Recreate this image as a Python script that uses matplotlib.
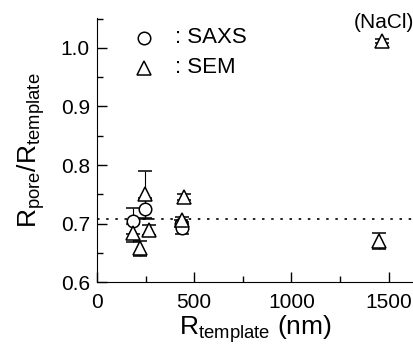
import matplotlib
matplotlib.use("Agg")
import matplotlib.pyplot as plt
from matplotlib.ticker import MultipleLocator

plt.rcParams['font.family'] = ['Liberation Sans', 'DejaVu Sans']
plt.rcParams['mathtext.fontset'] = 'custom'
plt.rcParams['mathtext.rm'] = 'Liberation Sans'
plt.rcParams['mathtext.it'] = 'Liberation Sans'

# SAXS points
saxs_x = [185, 246, 430, 440]
saxs_y = [0.705, 0.725, 0.700, 0.692]
saxs_err = [0.022, 0.018, 0.006, 0.010]

# SEM points
sem_x = [185, 220, 246, 267, 435, 446, 1450, 1468]
sem_y = [0.684, 0.658, 0.750, 0.689, 0.706, 0.745, 0.670, 1.012]
sem_err = [0.016, 0.013, 0.040, 0.008, 0.006, 0.005, 0.014, 0.004]

ideal = 0.707

fig = plt.figure(figsize=(4.14, 3.47), dpi=100)
ax = fig.add_axes([0.234, 0.187, 0.766, 0.761])

ax.axhline(ideal, color='black', linestyle=(0, (1.5, 4)), linewidth=1.2, zorder=1)

ax.errorbar(saxs_x, saxs_y, yerr=saxs_err, fmt='o', mfc='white', mec='black',
            ecolor='black', ms=9, mew=1.1, elinewidth=0.8, capsize=5, capthick=0.8, zorder=3)
ax.errorbar(sem_x, sem_y, yerr=sem_err, fmt='^', mfc='white', mec='black',
            ecolor='black', ms=10, mew=1.1, elinewidth=0.8, capsize=5, capthick=0.8, zorder=3)

# legend-like labels drawn in data space
ax.plot([240], [1.017], 'o', mfc='white', mec='black', ms=9, mew=1.1, clip_on=False)
ax.plot([240], [0.966], '^', mfc='white', mec='black', ms=10, mew=1.1, clip_on=False)
ax.text(400, 1.017, ': SAXS', fontsize=16, va='center', ha='left')
ax.text(400, 0.966, ': SEM', fontsize=16, va='center', ha='left')
ax.text(1475, 1.043, '(NaCl)', fontsize=15, va='center', ha='center')

ax.set_xlim(0, 1630)
ax.set_ylim(0.6, 1.051)
ax.xaxis.set_major_locator(MultipleLocator(500))
ax.xaxis.set_minor_locator(MultipleLocator(250))
ax.yaxis.set_major_locator(MultipleLocator(0.1))
ax.yaxis.set_minor_locator(MultipleLocator(0.05))
ax.yaxis.set_major_formatter(matplotlib.ticker.FormatStrFormatter('%.1f'))

ax.spines['top'].set_visible(False)
ax.spines['right'].set_visible(False)
ax.tick_params(which='both', direction='in', labelsize=15, width=1)
ax.tick_params(which='major', length=7)
ax.tick_params(which='minor', length=4)
ax.tick_params(axis='x', which='major', pad=8)
ax.tick_params(axis='y', which='major', pad=5)

ax.set_xlabel(r'$\mathregular{R_{template}}$ (nm)', fontsize=19, labelpad=1)
ax.set_ylabel(r'$\mathregular{R_{pore}/R_{template}}$', fontsize=19, labelpad=10)

fig.savefig('out.png', dpi=100)
